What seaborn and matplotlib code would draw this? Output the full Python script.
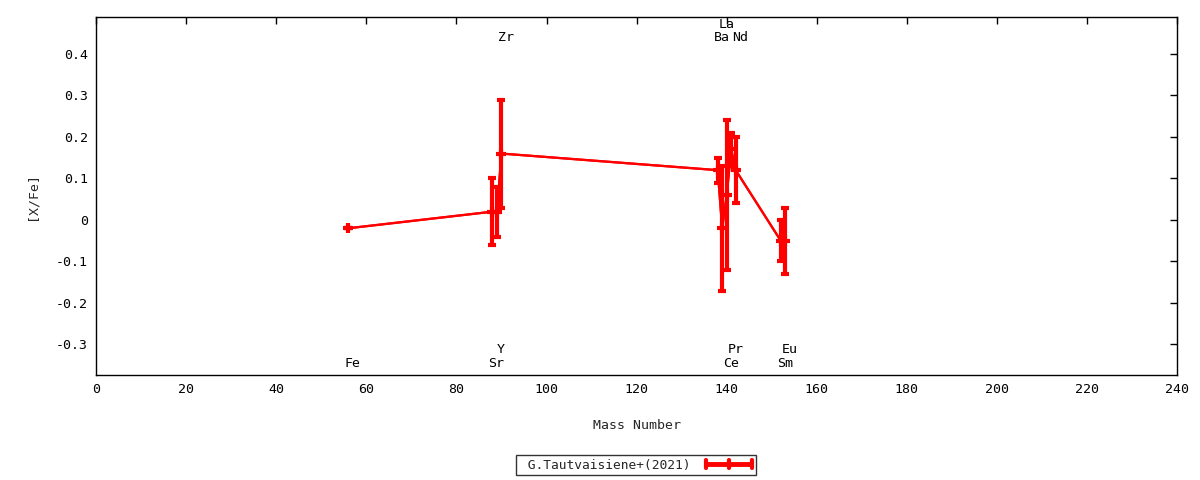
import numpy as np
import pandas as pd
import matplotlib
matplotlib.use("Agg")
import matplotlib.pyplot as plt
from matplotlib.lines import Line2D
from matplotlib.legend_handler import HandlerBase
import seaborn as sns

# ---- data ----
elements = ["Fe", "Sr", "Y", "Zr", "Ba", "La", "Ce", "Pr", "Nd", "Sm", "Eu"]
mass = [56, 88, 89, 90, 138, 139, 140, 141, 142, 152, 153]
xfe = [-0.02, 0.02, 0.02, 0.16, 0.12, -0.02, 0.06, 0.17, 0.12, -0.05, -0.05]
err = [0.0, 0.08, 0.06, 0.13, 0.03, 0.15, 0.18, 0.04, 0.08, 0.05, 0.08]
label_row = ["bottom", "bottom", "bottom2", "top", "top", "top2", "bottom",
             "bottom2", "top", "bottom", "bottom2"]
series_name = "G.Tautvaisiene+(2021)"
xticks = list(range(0, 241, 20))
yticks = [-0.3, -0.2, -0.1, 0, 0.1, 0.2, 0.3, 0.4]
ytick_labels = ["-0.3", "-0.2", "-0.1", "0", "0.1", "0.2", "0.3", "0.4"]

df = pd.DataFrame({"element": elements, "mass": mass, "xfe": xfe, "err": err})

sns.set_style("white")
plt.rcParams["font.family"] = ["DejaVu Sans Mono", "DejaVu Sans"]
plt.rcParams["font.size"] = 9.5

fig = plt.figure(figsize=(12, 4.8), dpi=100)
ax = fig.add_axes([0.08, 0.21875, 0.901, 0.74583])

red = "#ff0000"
sns.lineplot(data=df, x="mass", y="xfe", sort=False, ax=ax, color=red,
             linewidth=1.6, legend=False)
eb = ax.errorbar(df["mass"], df["xfe"], yerr=df["err"], fmt="+", color=red,
                 ecolor=red, elinewidth=3, capsize=3, capthick=3,
                 markersize=7, markeredgewidth=3, linestyle="-", linewidth=1.6,
                 label=series_name)

row_y = {"top": 0.44, "top2": 0.47, "bottom": -0.345, "bottom2": -0.312}
for el, m, r in zip(elements, mass, label_row):
    ax.text(m + 0.9, row_y[r], el, ha="center", va="center", fontsize=9.5,
            color="black")

ax.set_xlim(0, 240)
ax.set_ylim(-0.3735, 0.489)
ax.set_xticks(xticks)
ax.set_xticklabels([str(t) for t in xticks])
ax.set_yticks(yticks)
ax.set_yticklabels(ytick_labels)
ax.tick_params(direction="in", length=5, width=1, top=True, right=True,
               labelsize=9.5, colors="black", pad=6)
for s in ax.spines.values():
    s.set_visible(True)
    s.set_color("black")
    s.set_linewidth(1)

ax.set_xlabel("Mass Number", fontsize=9.5, labelpad=16)
ax.set_ylabel("[X/Fe]", fontsize=9.5, labelpad=12)


class HErrHandler(HandlerBase):
    def create_artists(self, legend, orig_handle, xdescent, ydescent, width,
                       height, fontsize, trans):
        y = height / 2 - ydescent
        x0, x1 = -xdescent, width - xdescent
        xm = (x0 + x1) / 2
        h = height * 0.45
        arts = [
            Line2D([x0, x1], [y, y], color=red, lw=3.5, solid_capstyle="butt"),
            Line2D([x0, x0], [y - h, y + h], color=red, lw=3),
            Line2D([x1, x1], [y - h, y + h], color=red, lw=3),
            Line2D([xm, xm], [y - h, y + h], color=red, lw=3),
        ]
        for a in arts:
            a.set_transform(trans)
        return arts


leg = fig.legend(handles=[eb], labels=[" " + series_name], loc="center",
                 bbox_to_anchor=(636 / 1200, 1 - 465 / 480), markerfirst=False,
                 frameon=True, fancybox=False, fontsize=9.3, handlelength=3.6,
                 borderpad=0.3, handletextpad=1.2, borderaxespad=0,
                 handler_map={type(eb): HErrHandler()})
leg.get_frame().set_edgecolor("black")
leg.get_frame().set_linewidth(1)

fig.savefig("out.png", dpi=100)
